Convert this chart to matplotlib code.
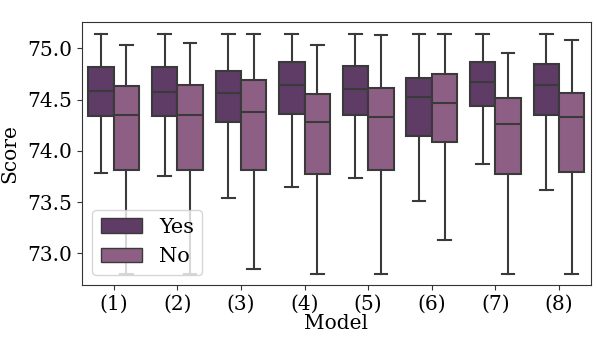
import numpy as np
import matplotlib
matplotlib.use("Agg")
import matplotlib.pyplot as plt
from matplotlib.patches import Patch

plt.rcParams['font.family'] = ['DejaVu Serif']
plt.rcParams['font.size'] = 14.5

models = ['(1)', '(2)', '(3)', '(4)', '(5)', '(6)', '(7)', '(8)']
hues = ['Yes', 'No']

# box statistics: low whisker, q1, median, q3, high whisker
yes_low = [73.78, 73.75, 73.535, 73.65, 73.73, 73.515, 73.87, 73.62]
yes_q1 = [74.34, 74.34, 74.28, 74.36, 74.35, 74.145, 74.44, 74.345]
yes_med = [74.585, 74.57, 74.565, 74.64, 74.60, 74.525, 74.675, 74.64]
yes_q3 = [74.82, 74.82, 74.78, 74.865, 74.83, 74.71, 74.865, 74.85]
yes_high = [75.14, 75.14, 75.14, 75.14, 75.14, 75.14, 75.14, 75.14]

no_low = [72.80, 72.80, 72.85, 72.80, 72.80, 73.13, 72.80, 72.80]
no_q1 = [73.81, 73.81, 73.81, 73.77, 73.81, 74.09, 73.77, 73.79]
no_med = [74.35, 74.35, 74.38, 74.28, 74.33, 74.465, 74.26, 74.33]
no_q3 = [74.63, 74.645, 74.69, 74.55, 74.615, 74.75, 74.515, 74.56]
no_high = [75.03, 75.05, 75.14, 75.03, 75.13, 75.14, 74.95, 75.08]

colors = {'Yes': '#5e3c66', 'No': '#8e5f85'}
edge = '#3a3a3a'

def make_stats(low, q1, med, q3, high):
    return [dict(whislo=a, q1=b, med=c, q3=d, whishi=e, fliers=[])
            for a, b, c, d, e in zip(low, q1, med, q3, high)]

groups = {
    'Yes': make_stats(yes_low, yes_q1, yes_med, yes_q3, yes_high),
    'No': make_stats(no_low, no_q1, no_med, no_q3, no_high),
}

fig, ax = plt.subplots(figsize=(5.98, 3.6), dpi=100)
x = np.arange(len(models))
w = 0.4
for i, h in enumerate(hues):
    pos = x + (i - 0.5) * w
    ax.bxp(groups[h], positions=pos, widths=w, capwidths=w / 2,
           patch_artist=True, showfliers=False,
           boxprops=dict(facecolor=colors[h], edgecolor=edge, linewidth=1.5),
           medianprops=dict(color=edge, linewidth=1.5),
           whiskerprops=dict(color=edge, linewidth=1.5),
           capprops=dict(color=edge, linewidth=1.5))

ax.set_xticks(x)
ax.set_xticklabels(models)
ax.set_xlim(-0.5, len(models) - 0.5)
ax.set_ylim(72.69, 75.26)
ax.set_yticks([73.0, 73.5, 74.0, 74.5, 75.0])
ax.set_xlabel('Model', labelpad=0)
ax.set_ylabel('Score', labelpad=6)
for s in ax.spines.values():
    s.set_color('#333333')
ax.tick_params(colors='#333333', labelcolor='black')

handles = [Patch(facecolor=colors[h], edgecolor=edge, label=h) for h in hues]
ax.legend(handles=handles, loc='lower left', fontsize=15)

fig.subplots_adjust(left=0.137, right=0.988, top=0.94, bottom=0.208)
fig.savefig('out.png', dpi=100)
